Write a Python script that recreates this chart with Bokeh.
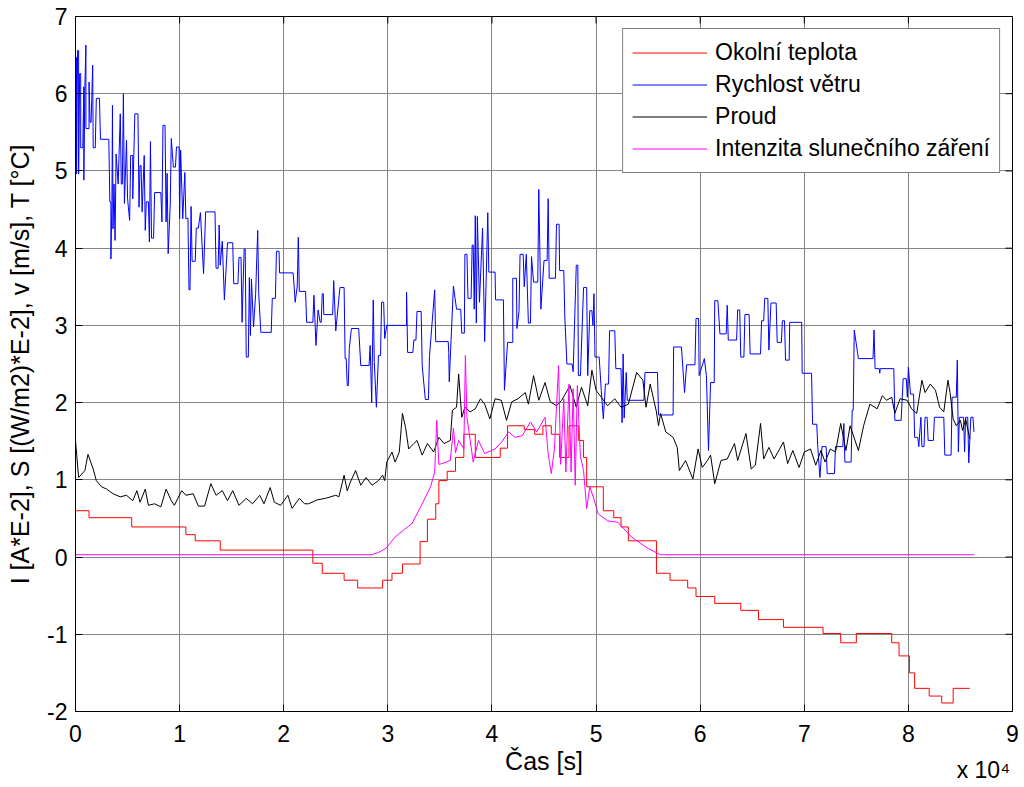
from bokeh.plotting import figure
from bokeh.models import Range1d, FixedTicker, Legend, LegendItem, LinearAxis, CustomJSTickFormatter
from bokeh.embed import file_html
from bokeh.resources import INLINE

# time in units of 10^4 s
temp_t = [0.00, 0.13, 0.54, 1.06, 1.15, 1.39, 2.28, 2.37, 2.58, 2.71, 2.95, 3.04, 3.14, 3.31, 3.38,
          3.46, 3.49, 3.57, 3.65, 3.73, 3.84, 4.08, 4.15, 4.31, 4.41, 4.49, 4.57, 4.65, 4.74, 4.83,
          4.88, 4.91, 5.07, 5.17, 5.24, 5.31, 5.58, 5.71, 5.88, 5.96, 6.14, 6.39, 6.56, 6.80, 7.18,
          7.35, 7.50, 7.84, 7.91, 8.01, 8.06, 8.20, 8.32, 8.43, 8.59]
temp_v = [0.60, 0.51, 0.39, 0.29, 0.21, 0.09, -0.08, -0.21, -0.30, -0.40, -0.30, -0.21, -0.09, 0.20, 0.49,
          0.69, 0.99, 1.11, 1.29, 1.59, 1.29, 1.41, 1.70, 1.65, 1.59, 1.70, 1.59, 1.29, 1.70, 1.51,
          1.29, 0.91, 0.60, 0.51, 0.39, 0.21, -0.21, -0.30, -0.40, -0.51, -0.60, -0.69, -0.81, -0.91, -0.99,
          -1.11, -0.99, -1.11, -1.28, -1.50, -1.70, -1.80, -1.89, -1.70, -1.70]

wind_t = [0.00, 0.00, 0.01, 0.01, 0.02, 0.03, 0.03, 0.04, 0.05, 0.05, 0.07, 0.08, 0.08, 0.09, 0.10, 0.10,
          0.13, 0.13, 0.14, 0.15, 0.165, 0.17, 0.19, 0.20, 0.23, 0.24, 0.32, 0.33, 0.34, 0.34, 0.35, 0.355,
          0.36, 0.37, 0.38, 0.39, 0.41, 0.43, 0.44, 0.45, 0.46, 0.47, 0.49, 0.50, 0.52, 0.53, 0.55, 0.55,
          0.57, 0.60, 0.61, 0.62, 0.63, 0.64, 0.66, 0.67, 0.68, 0.70, 0.71, 0.72, 0.73, 0.75, 0.76, 0.82,
          0.83, 0.84, 0.86, 0.87, 0.88, 0.89, 0.91, 0.92, 0.94, 0.96, 0.97, 0.995, 1.00, 1.01, 1.03, 1.05,
          1.06, 1.08, 1.09, 1.10, 1.11, 1.12, 1.15, 1.16, 1.18, 1.20, 1.23, 1.25, 1.34, 1.35, 1.37, 1.38,
          1.39, 1.41, 1.43, 1.46, 1.51, 1.52, 1.56, 1.57, 1.59, 1.60, 1.62, 1.63, 1.64, 1.66, 1.67, 1.68,
          1.69, 1.71, 1.73, 1.75, 1.76, 1.78, 1.88, 1.89, 1.92, 1.93, 1.955, 1.96, 2.09, 2.10, 2.11, 2.13,
          2.14, 2.15, 2.21, 2.22, 2.28, 2.29, 2.31, 2.33, 2.35, 2.36, 2.37, 2.38, 2.385, 2.47, 2.48, 2.50,
          2.54, 2.58, 2.59, 2.60, 2.61, 2.62, 2.63, 2.65, 2.72, 2.74, 2.82, 2.83, 2.845, 2.86, 2.87, 2.89,
          2.91, 2.93, 2.94, 2.96, 2.97, 2.99, 3.18, 3.18, 3.19, 3.24, 3.25, 3.27, 3.28, 3.32, 3.33, 3.36,
          3.39, 3.40, 3.45, 3.46, 3.58, 3.585, 3.59, 3.63, 3.66, 3.70, 3.71, 3.735, 3.74, 3.76, 3.77, 3.80,
          3.81, 3.82, 3.83, 3.84, 3.85, 3.86, 3.88, 3.91, 3.93, 3.96, 3.97, 4.03, 4.035, 4.11, 4.12, 4.15,
          4.20, 4.20, 4.235, 4.24, 4.26, 4.27, 4.30, 4.31, 4.33, 4.35, 4.37, 4.38, 4.40, 4.44, 4.45, 4.47,
          4.50, 4.53, 4.54, 4.55, 4.61, 4.62, 4.645, 4.65, 4.69, 4.70, 4.72, 4.77, 4.78, 4.81, 4.825, 4.83,
          4.85, 4.88, 4.91, 4.92, 4.94, 4.96, 4.97, 4.98, 4.99, 5.03, 5.05, 5.07, 5.09, 5.12, 5.13, 5.18,
          5.19, 5.24, 5.25, 5.26, 5.27, 5.29, 5.30, 5.46, 5.47, 5.59, 5.60, 5.74, 5.745, 5.82, 5.85, 5.87,
          5.95, 5.96, 5.985, 5.99, 6.04, 6.06, 6.08, 6.10, 6.135, 6.14, 6.17, 6.19, 6.25, 6.26, 6.27, 6.35,
          6.36, 6.38, 6.39, 6.42, 6.43, 6.47, 6.48, 6.58, 6.59, 6.61, 6.62, 6.65, 6.66, 6.68, 6.73, 6.74,
          6.78, 6.79, 6.81, 6.82, 6.855, 6.86, 6.975, 6.98, 7.07, 7.08, 7.12, 7.13, 7.15, 7.17, 7.21, 7.22,
          7.29, 7.30, 7.37, 7.38, 7.39, 7.45, 7.46, 7.47, 7.48, 7.52, 7.66, 7.67, 7.68, 7.72, 7.725, 7.73,
          7.86, 7.87, 7.93, 7.95, 7.98, 7.99, 8.00, 8.02, 8.05, 8.06, 8.09, 8.10, 8.12, 8.13, 8.15, 8.16,
          8.18, 8.19, 8.24, 8.25, 8.34, 8.35, 8.41, 8.42, 8.46, 8.47, 8.48, 8.49, 8.53, 8.54, 8.55, 8.57,
          8.58, 8.60, 8.62, 8.63]
wind_v = [4.96, 6.47, 6.47, 4.96, 6.56, 6.56, 4.96, 6.26, 6.26, 5.30, 5.30, 6.09, 4.88, 6.09, 6.63, 5.55,
          5.55, 6.15, 5.63, 5.63, 6.37, 5.30, 5.30, 5.94, 5.94, 5.41, 5.41, 4.60, 4.60, 3.86, 4.60, 5.85,
          4.25, 4.83, 4.10, 5.22, 4.83, 5.74, 4.83, 4.83, 6.00, 4.58, 5.40, 4.64, 4.36, 5.20, 5.20, 4.64,
          5.74, 5.74, 4.53, 5.07, 5.07, 4.47, 5.20, 4.23, 4.60, 4.60, 4.08, 5.38, 4.13, 4.13, 4.72, 4.72,
          4.34, 5.59, 5.59, 4.34, 4.97, 3.93, 4.56, 5.42, 5.05, 5.05, 5.31, 5.31, 4.38, 5.27, 4.38, 4.98,
          4.38, 4.39, 3.46, 3.46, 4.54, 3.83, 3.83, 4.26, 4.26, 4.46, 3.67, 4.47, 4.47, 3.74, 3.74, 4.30,
          3.78, 4.09, 3.33, 4.07, 4.07, 3.54, 3.54, 3.88, 3.88, 3.04, 3.99, 3.99, 2.59, 2.59, 3.62, 2.87,
          3.60, 2.98, 3.40, 4.23, 3.41, 2.91, 2.91, 3.35, 3.35, 3.96, 3.96, 3.68, 3.68, 3.51, 3.30, 3.51,
          4.14, 3.44, 3.44, 3.04, 3.04, 3.39, 2.74, 3.20, 3.04, 3.04, 3.41, 3.41, 3.14, 3.14, 3.58, 2.93,
          3.49, 3.49, 2.57, 2.57, 2.22, 2.22, 2.70, 2.96, 2.96, 2.48, 2.48, 2.74, 2.00, 3.33, 2.52, 1.94,
          2.61, 2.61, 3.30, 3.30, 2.83, 3.00, 3.00, 3.43, 2.65, 2.65, 2.81, 2.81, 3.18, 3.18, 2.48, 2.04,
          2.04, 2.60, 3.46, 2.79, 2.79, 2.65, 2.27, 3.51, 3.21, 3.21, 2.90, 2.90, 3.92, 3.92, 3.35, 3.35,
          4.04, 4.04, 3.21, 4.42, 3.03, 4.41, 3.30, 4.26, 2.79, 4.46, 3.69, 3.69, 3.33, 3.33, 2.16, 2.78,
          2.78, 3.61, 3.61, 2.96, 3.18, 3.92, 3.92, 3.50, 3.92, 3.03, 3.03, 3.89, 3.56, 3.56, 4.76, 3.21,
          3.84, 3.84, 4.64, 3.61, 3.61, 4.31, 4.31, 3.71, 3.71, 3.11, 2.50, 2.50, 2.40, 3.78, 3.78, 2.35,
          2.35, 3.49, 3.49, 2.35, 3.19, 3.19, 3.00, 3.41, 2.59, 2.59, 2.16, 1.79, 2.24, 2.24, 2.93, 2.93,
          2.44, 2.44, 1.74, 2.63, 1.80, 2.39, 2.03, 2.03, 2.39, 2.39, 1.84, 1.84, 2.72, 2.72, 2.13, 2.49,
          2.49, 3.09, 3.09, 2.35, 2.57, 2.35, 1.38, 2.26, 2.26, 3.32, 3.32, 2.89, 2.89, 3.26, 2.81, 2.81,
          3.20, 3.20, 2.59, 2.59, 3.14, 3.14, 2.63, 2.63, 3.06, 3.06, 3.35, 3.35, 2.68, 3.29, 3.29, 2.78,
          2.78, 3.06, 3.06, 2.55, 2.55, 3.04, 3.04, 2.38, 2.38, 1.72, 1.72, 1.42, 1.03, 1.43, 1.43, 1.08,
          1.08, 1.43, 1.43, 1.73, 1.23, 1.23, 1.90, 1.90, 2.94, 2.57, 2.57, 2.94, 2.44, 2.44, 2.38, 2.44,
          2.44, 1.77, 1.77, 2.31, 2.31, 2.07, 2.46, 2.11, 2.11, 1.55, 1.55, 1.43, 1.81, 1.43, 1.43, 1.81,
          1.81, 1.51, 1.51, 1.81, 1.81, 1.32, 1.32, 2.07, 2.07, 2.55, 1.36, 1.81, 1.81, 1.36, 1.81, 1.81,
          1.22, 1.81, 1.81, 1.62]

current_t = [0.00, 0.03, 0.09, 0.12, 0.17, 0.20, 0.25, 0.30, 0.36, 0.43, 0.49, 0.55, 0.59, 0.62, 0.67, 0.70,
             0.76, 0.82, 0.87, 0.92, 0.95, 1.02, 1.06, 1.13, 1.18, 1.24, 1.30, 1.35, 1.41, 1.46, 1.51, 1.57,
             1.64, 1.70, 1.77, 1.81, 1.87, 1.91, 1.97, 2.04, 2.08, 2.15, 2.20, 2.24, 2.32, 2.40, 2.50, 2.53,
             2.58, 2.61, 2.64, 2.69, 2.74, 2.79, 2.85, 2.91, 2.95, 2.97, 2.99, 3.04, 3.07, 3.11, 3.14, 3.17,
             3.20, 3.25, 3.28, 3.33, 3.38, 3.44, 3.49, 3.54, 3.60, 3.62, 3.66, 3.68, 3.71, 3.74, 3.79, 3.84,
             3.89, 3.93, 3.98, 4.03, 4.09, 4.14, 4.19, 4.25, 4.32, 4.35, 4.40, 4.45, 4.51, 4.56, 4.62, 4.67,
             4.75, 4.81, 4.86, 4.92, 4.96, 5.00, 5.05, 5.11, 5.18, 5.24, 5.31, 5.39, 5.45, 5.48, 5.52, 5.58,
             5.60, 5.62, 5.67, 5.74, 5.78, 5.80, 5.86, 5.93, 5.98, 6.02, 6.07, 6.10, 6.14, 6.20, 6.26, 6.33,
             6.36, 6.44, 6.49, 6.53, 6.58, 6.61, 6.66, 6.71, 6.80, 6.84, 6.89, 6.95, 7.00, 7.06, 7.11, 7.16,
             7.20, 7.25, 7.30, 7.35, 7.40, 7.44, 7.52, 7.57, 7.63, 7.70, 7.75, 7.79, 7.84, 7.87, 7.92, 7.99,
             8.03, 8.08, 8.13, 8.16, 8.21, 8.26, 8.30, 8.34, 8.38, 8.40, 8.43, 8.46, 8.50, 8.52, 8.55, 8.59]
current_v = [1.51, 1.03, 1.12, 1.33, 1.14, 0.99, 0.91, 0.88, 0.82, 0.78, 0.80, 0.73, 0.86, 0.71, 0.88, 0.67,
             0.69, 0.65, 0.88, 0.73, 0.67, 0.86, 0.80, 0.82, 0.66, 0.66, 0.95, 0.80, 0.86, 0.73, 0.86, 0.67,
             0.76, 0.69, 0.80, 0.69, 0.90, 0.71, 0.67, 0.80, 0.63, 0.76, 0.69, 0.69, 0.74, 0.76, 0.80, 0.78,
             1.06, 0.86, 0.97, 1.12, 0.93, 1.03, 0.93, 0.99, 1.06, 0.99, 1.23, 1.36, 1.23, 1.36, 1.86, 1.68,
             1.40, 1.47, 1.51, 1.32, 1.47, 1.36, 1.55, 1.47, 1.51, 1.90, 1.94, 2.37, 1.81, 1.94, 1.88, 1.92,
             2.05, 1.98, 1.79, 2.05, 2.03, 1.77, 2.01, 2.05, 2.13, 1.98, 2.35, 2.03, 2.26, 2.01, 1.96, 2.03,
             2.22, 1.94, 2.20, 1.96, 2.42, 2.16, 2.07, 1.96, 2.05, 1.94, 1.98, 2.39, 2.29, 1.94, 2.24, 1.88,
             1.70, 1.86, 1.62, 1.55, 1.42, 1.12, 1.25, 1.01, 1.40, 1.16, 1.25, 1.32, 0.95, 1.25, 1.27, 1.47,
             1.25, 1.60, 1.14, 1.19, 1.73, 1.27, 1.42, 1.27, 1.49, 1.21, 1.38, 1.16, 1.36, 1.40, 1.19, 1.38,
             1.23, 1.40, 1.36, 1.73, 1.38, 1.70, 1.38, 1.70, 1.98, 1.92, 2.09, 2.03, 2.07, 1.86, 2.05, 2.03,
             1.92, 1.86, 2.29, 2.13, 2.24, 2.16, 1.94, 1.88, 2.29, 2.13, 1.79, 1.70, 1.77, 1.64, 1.79, 1.53]

solar_t = [0.00, 2.85, 2.91, 2.98, 3.07, 3.16, 3.23, 3.33, 3.41, 3.45, 3.47, 3.49, 3.52, 3.60, 3.63,
           3.65, 3.68, 3.73, 3.745, 3.76, 3.82, 3.87, 3.93, 4.03, 4.10, 4.16, 4.22, 4.29, 4.37, 4.43,
           4.51, 4.54, 4.57, 4.60, 4.64, 4.66, 4.69, 4.71, 4.74, 4.76, 4.78, 4.80, 4.82, 4.85, 4.88,
           4.91, 4.94, 4.98, 5.02, 5.11, 5.21, 5.34, 5.50, 5.62, 8.63]
solar_v = [0.03, 0.03, 0.06, 0.11, 0.26, 0.36, 0.43, 0.69, 0.91, 1.10, 1.77, 1.20, 1.21, 1.25, 1.67,
           1.35, 1.51, 1.40, 2.61, 1.81, 1.23, 1.51, 1.34, 1.40, 1.50, 1.62, 1.55, 1.57, 1.75, 1.62,
           1.81, 1.34, 1.08, 1.40, 2.48, 1.20, 2.05, 1.10, 2.24, 1.10, 2.18, 0.93, 2.22, 1.30, 1.12,
           0.63, 0.91, 0.75, 0.56, 0.47, 0.45, 0.26, 0.11, 0.03, 0.03]

x_ticks = list(range(0, 10))
y_ticks = list(range(-2, 8))
series_names = ["Okolní teplota", "Rychlost větru", "Proud", "Intenzita slunečního záření"]
x_label = "Čas [s]"
y_label = "I [A*E-2], S [(W/m2)*E-2], v [m/s], T [°C]"
x_multiplier = "x 10⁴"

FONT = "Liberation Sans"
X0, X1, Y0, Y1 = 0, 9, -2, 7

p = figure(width=1024, height=787, output_backend="svg", toolbar_location=None,
           x_range=Range1d(X0, X1), y_range=Range1d(Y0, Y1),
           min_border_left=75, min_border_right=12, min_border_top=16, min_border_bottom=76)
p.background_fill_color = "white"
p.border_fill_color = "white"
p.outline_line_color = "black"
p.outline_line_width = 1

# staircase for the temperature, derived from the step table
step_x, step_y = [], []
for i, (t, v) in enumerate(zip(temp_t, temp_v)):
    if i > 0:
        step_x.append(t)
        step_y.append(temp_v[i - 1])
    step_x.append(t)
    step_y.append(v)

r_temp = p.line(step_x, step_y, line_color="#ff0000", line_width=1)
r_wind = p.line(wind_t, wind_v, line_color="#0000ff", line_width=1)
r_cur = p.line(current_t, current_v, line_color="#000000", line_width=1)
r_sol = p.line(solar_t, solar_v, line_color="#ff00ff", line_width=1)

plain_fmt = CustomJSTickFormatter(code="return tick.toString()")
for ax, ticks in ((p.xaxis[0], x_ticks), (p.yaxis[0], y_ticks)):
    ax.ticker = FixedTicker(ticks=ticks)
    ax.formatter = plain_fmt
    ax.major_tick_in = 7
    ax.major_tick_out = 0
    ax.minor_tick_line_color = None
    ax.axis_line_color = "black"
    ax.major_tick_line_color = "black"
    ax.major_label_text_font = FONT
    ax.major_label_text_font_size = "23px"
    ax.major_label_text_color = "black"
    ax.axis_label_text_font = FONT
    ax.axis_label_text_font_size = "25px"
    ax.axis_label_text_font_style = "normal"
    ax.axis_label_text_color = "black"

p.xaxis[0].axis_label = x_label
p.xaxis[0].major_label_standoff = 13
p.xaxis[0].axis_label_standoff = 2
p.yaxis[0].axis_label = y_label
p.yaxis[0].major_label_standoff = 8
p.yaxis[0].axis_label_standoff = 10

# exponent note under the right end of the x axis
mult_axis = LinearAxis(ticker=FixedTicker(ticks=[8.72]),
                       formatter=CustomJSTickFormatter(code="return txt", args=dict(txt=x_multiplier)),
                       axis_line_color=None, major_tick_line_color=None, minor_tick_line_color=None,
                       major_tick_in=0, major_tick_out=0, major_label_standoff=-21,
                       major_label_text_font=FONT, major_label_text_font_size="23px",
                       major_label_text_color="black")
p.add_layout(mult_axis, "below")

# mirrored inward ticks on the top and right edges
tick_len_y = 7 * (Y1 - Y0) / 695.0
tick_len_x = 7 * (X1 - X0) / 937.0
p.segment(x0=x_ticks, y0=[Y1] * len(x_ticks), x1=x_ticks, y1=[Y1 - tick_len_y] * len(x_ticks),
          line_color="black", line_width=1)
p.segment(x0=[X1] * len(y_ticks), y0=y_ticks, x1=[X1 - tick_len_x] * len(y_ticks), y1=y_ticks,
          line_color="black", line_width=1)

p.xgrid.ticker = FixedTicker(ticks=x_ticks)
p.ygrid.ticker = FixedTicker(ticks=y_ticks)
p.grid.grid_line_color = "#858585"
p.grid.grid_line_width = 1

legend = Legend(items=[LegendItem(label=series_names[0], renderers=[r_temp]),
                       LegendItem(label=series_names[1], renderers=[r_wind]),
                       LegendItem(label=series_names[2], renderers=[r_cur]),
                       LegendItem(label=series_names[3], renderers=[r_sol])],
                location="top_right", margin=12, padding=9, spacing=3,
                glyph_width=75, glyph_height=29, label_height=29, label_standoff=8,
                label_text_font=FONT, label_text_font_size="23px", label_text_color="black",
                border_line_color="black", border_line_width=1,
                background_fill_color="white", background_fill_alpha=1.0)
p.add_layout(legend)

open("out.html", "w").write(file_html(p, INLINE))
